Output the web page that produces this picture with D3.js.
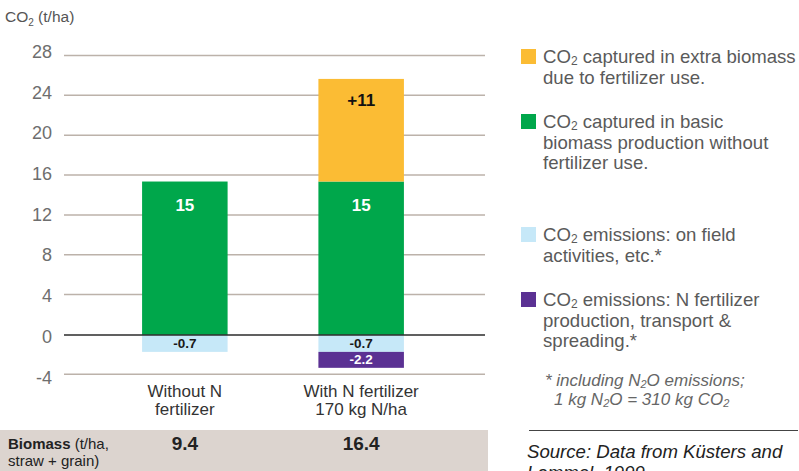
<!DOCTYPE html>
<html>
<head>
<meta charset="utf-8">
<script src="https://cdn.jsdelivr.net/npm/d3@7"></script>
<style>
body { margin: 0; background: #fff; }
text { font-family: "Liberation Sans", Arial, sans-serif; }
</style>
</head>
<body>
<script>
// data (drawn heights, labels are the printed numbers)
var categories = ["without", "with"];
var catLabels = [["Without N", "fertilizer"], ["With N fertilizer", "170 kg N/ha"]];
var basic = [15.4, 15.4];
var extra = [0, 10.3];
var field = [-1.7, -1.7];
var nfert = [0, -1.6];
var basicLabels = ["15", "15"];
var extraLabels = ["", "+11"];
var fieldLabels = ["-0.7", "-0.7"];
var nfertLabels = ["", "-2.2"];
var biomass = ["9.4", "16.4"];
var yTicks = [-4, 0, 4, 8, 12, 16, 20, 24, 28];

var colors = { extra: "#fbbc34", basic: "#00a74b", field: "#c6e8f8", nfert: "#5b3193" };

var width = 799, height = 471;
var svg = d3.select("body").append("svg").attr("width", width).attr("height", height);

var y = d3.scaleLinear().domain([-4, 28]).range([374.8, 56]);
// tick labels sit on a slightly wider spacing than the grid in the original
var yLab = d3.scaleLinear().domain([-4, 28]).range([377, 51.5]);
var x = d3.scaleBand().domain(categories).range([98, 448]).paddingInner(0.515).paddingOuter(0.25);

// grid lines
svg.append("g").selectAll("line").data(yTicks.filter(function (d) { return d !== 0; }))
    .enter().append("line")
    .attr("x1", 64).attr("x2", 485)
    .attr("y1", function (d) { return y(d) - 0.5; }).attr("y2", function (d) { return y(d) - 0.5; })
    .attr("stroke", "#bcb2aa").attr("stroke-width", 1.5);

svg.append("g").selectAll("text").data(yTicks)
    .enter().append("text")
    .attr("x", 52).attr("y", function (d) { return yLab(d) + 6.5; })
    .attr("text-anchor", "end").attr("font-size", 18).attr("fill", "#6e6e6e")
    .text(function (d) { return d; });

// axis title
var t = svg.append("text").attr("x", 5).attr("y", 22).attr("font-size", 15.5).attr("fill", "#555");
t.append("tspan").text("CO");
t.append("tspan").attr("font-size", 10).attr("dy", 4).text("2");
t.append("tspan").attr("dy", -4).text(" (t/ha)");

// stacked bars
function bar(vals, base, key) {
    svg.append("g").selectAll("rect").data(categories)
        .enter().append("rect")
        .filter(function (d, i) { return vals[i] !== 0; })
        .attr("x", function (d) { return x(d); })
        .attr("width", x.bandwidth())
        .attr("y", function (d) { var i = categories.indexOf(d); return y(Math.max(base[i], base[i] + vals[i])); })
        .attr("height", function (d) { var i = categories.indexOf(d); return Math.abs(y(base[i]) - y(base[i] + vals[i])); })
        .attr("fill", colors[key]);
}
var zero = [0, 0];
bar(basic, zero, "basic");
bar(extra, basic, "extra");
bar(field, zero, "field");
bar(nfert, field, "nfert");

// zero line
svg.append("line").attr("x1", 64).attr("x2", 485).attr("y1", y(0)).attr("y2", y(0))
    .attr("stroke", "#2b2b2b").attr("stroke-width", 1.5);

// value labels
function labels(arr, yPos, fill, size) {
    svg.append("g").selectAll("text").data(categories)
        .enter().append("text")
        .attr("x", function (d) { return x(d) + x.bandwidth() / 2; })
        .attr("y", function (d, i) { return yPos(i); })
        .attr("text-anchor", "middle").attr("font-weight", "bold")
        .attr("font-size", size).attr("fill", fill)
        .text(function (d, i) { return arr[i]; });
}
labels(basicLabels, function (i) { return y(basic[i]) + 29; }, "#fff", 17);
labels(extraLabels, function (i) { return y(basic[i] + extra[i]) + 27; }, "#111", 17);
labels(fieldLabels, function (i) { return y(0) + 13; }, "#1a1a1a", 13.5);
labels(nfertLabels, function (i) { return y(field[i]) + 12.5; }, "#fff", 13.5);

// category labels
catLabels.forEach(function (lines, i) {
    var cx = x(categories[i]) + x.bandwidth() / 2;
    lines.forEach(function (s, j) {
        svg.append("text").attr("x", cx).attr("y", 397 + j * 17.5)
            .attr("text-anchor", "middle").attr("font-size", 17).attr("fill", "#333").text(s);
    });
});

// biomass band
svg.append("rect").attr("x", 0).attr("y", 430).attr("width", 488).attr("height", 41).attr("fill", "#dcd4cf");
var b = svg.append("text").attr("x", 8).attr("y", 449).attr("font-size", 15).attr("fill", "#222");
b.append("tspan").attr("font-weight", "bold").text("Biomass");
b.append("tspan").text(" (t/ha,");
svg.append("text").attr("x", 8).attr("y", 466).attr("font-size", 15).attr("fill", "#222").text("straw + grain)");
svg.append("g").selectAll("text").data(categories).enter().append("text")
    .attr("x", function (d) { return x(d) + x.bandwidth() / 2; }).attr("y", 450)
    .attr("text-anchor", "middle").attr("font-weight", "bold").attr("font-size", 19).attr("fill", "#222")
    .text(function (d, i) { return biomass[i]; });

// legend
var legend = [
    { key: "extra", y: 49, lines: [["CO", "2", " captured in extra biomass"], ["due to fertilizer use."]] },
    { key: "basic", y: 114, lines: [["CO", "2", " captured in basic"], ["biomass production without"], ["fertilizer use."]] },
    { key: "field", y: 227, lines: [["CO", "2", " emissions: on field"], ["activities, etc.*"]] },
    { key: "nfert", y: 292, lines: [["CO", "2", " emissions: N fertilizer"], ["production, transport &"], ["spreading.*"]] }
];
legend.forEach(function (l) {
    svg.append("rect").attr("x", 521).attr("y", l.y).attr("width", 15).attr("height", 15).attr("fill", colors[l.key]);
    l.lines.forEach(function (parts, j) {
        var tx = svg.append("text").attr("x", 543).attr("y", l.y + 14 + j * 20.5)
            .attr("font-size", 18.6).attr("fill", "#5a5a5a");
        tx.append("tspan").text(parts[0]);
        if (parts.length > 1) {
            tx.append("tspan").attr("font-size", 12).attr("dy", 2).text(parts[1]);
            tx.append("tspan").attr("dy", -2).text(parts[2]);
        }
    });
});

// footnote
var f1 = svg.append("text").attr("x", 545).attr("y", 386).attr("font-size", 17).attr("font-style", "italic").attr("fill", "#666");
f1.append("tspan").text("* including N");
f1.append("tspan").attr("font-size", 11).attr("dy", 2).text("2");
f1.append("tspan").attr("dy", -2).text("O emissions;");
var f2 = svg.append("text").attr("x", 554).attr("y", 405).attr("font-size", 17).attr("font-style", "italic").attr("fill", "#666");
f2.append("tspan").text("1 kg N");
f2.append("tspan").attr("font-size", 11).attr("dy", 2).text("2");
f2.append("tspan").attr("dy", -2).text("O = 310 kg CO");
f2.append("tspan").attr("font-size", 11).attr("dy", 2).text("2");

svg.append("line").attr("x1", 529).attr("x2", 798).attr("y1", 430.5).attr("y2", 430.5).attr("stroke", "#444").attr("stroke-width", 1);
svg.append("text").attr("x", 527).attr("y", 458).attr("font-size", 18.6).attr("font-style", "italic").attr("fill", "#222")
    .text("Source: Data from Küsters and");
svg.append("text").attr("x", 527).attr("y", 479).attr("font-size", 18.6).attr("font-style", "italic").attr("fill", "#222")
    .text("Lammel, 1999");
</script>
</body>
</html>
